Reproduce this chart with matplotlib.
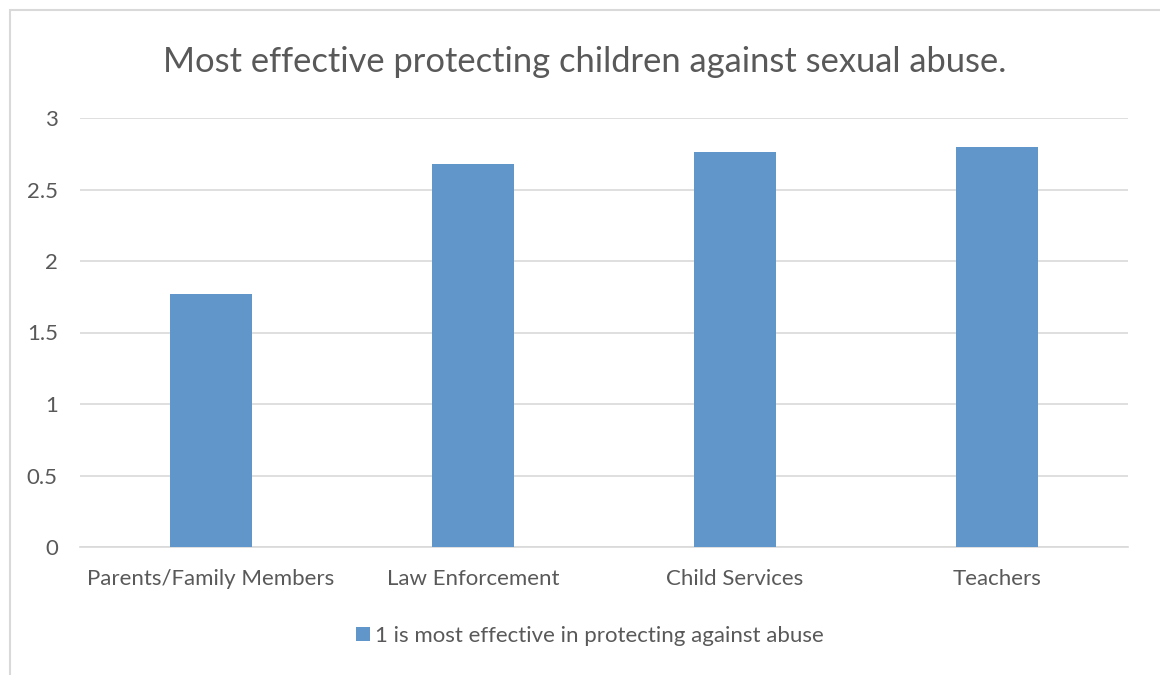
import matplotlib.pyplot as plt
import matplotlib.patches as patches
import numpy as np

categories = ['Parents/Family Members', 'Law Enforcement', 'Child Services', 'Teachers']
values = [1.77, 2.68, 2.76, 2.80]
series_name = '1 is most effective in protecting against abuse'
title = 'Most effective protecting children against sexual abuse.'

bar_color = '#6096C9'
text_color = '#595959'
grid_color = '#D9D9D9'

plt.rcParams['font.family'] = ['Lato', 'DejaVu Sans']

fig = plt.figure(figsize=(11.6, 6.75), dpi=100)
ax = fig.add_axes([80 / 1160, 1 - 547 / 675, 1048 / 1160, 429 / 675])

# outer chart frame, open at right and bottom
fig.add_artist(patches.Rectangle((10 / 1160, -0.1), 1.2, 1 - 10 / 675 + 0.1,
                                 transform=fig.transFigure, fill=False,
                                 edgecolor=grid_color, linewidth=1.5))

x_pos = np.arange(len(categories))
ax.bar(x_pos, values, width=0.315, color=bar_color, label=series_name, zorder=3)

ax.set_xlim(-0.5, len(categories) - 0.5)
ax.set_ylim(0, 3)
ax.set_yticks(np.arange(0, 3.01, 0.5))
ax.set_yticklabels(['0', '0.5', '1', '1.5', '2', '2.5', '3'])
ax.set_xticks(x_pos)
ax.set_xticklabels(categories)
ax.tick_params(axis='both', length=0, labelsize=16, colors=text_color)
ax.tick_params(axis='y', pad=16)
ax.tick_params(axis='x', pad=16)
ax.grid(True, axis='y', color=grid_color, linewidth=1.2, zorder=0)
for side in ['top', 'right', 'left']:
    ax.spines[side].set_visible(False)
ax.spines['bottom'].set_color(grid_color)
ax.spines['bottom'].set_linewidth(1.2)

fig.text(585 / 1160, 1 - 62 / 675, title, ha='center', va='center',
         fontsize=24.8, color=text_color)

leg = fig.legend(loc='center', bbox_to_anchor=(590 / 1160, 1 - 636 / 675),
                 frameon=False, fontsize=16, handlelength=0.6, handleheight=0.6,
                 handletextpad=0.25)
for t in leg.get_texts():
    t.set_color(text_color)

fig.savefig('out.png', dpi=100)
